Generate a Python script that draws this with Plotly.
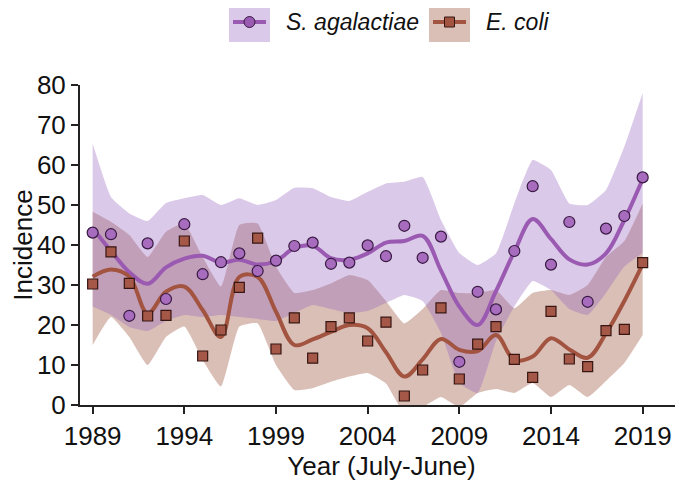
import plotly.graph_objects as go

# années (juillet-juin)
years = list(range(1989, 2020))

# incidence observée
sag_obs = [43.1, 42.7, 22.3, 40.4, 26.5, 45.2, 32.7, 35.7, 37.9, 33.5, 36.1,
           39.75, 40.6, 35.3, 35.6, 39.9, 37.2, 44.8, 36.8, 42.1, 10.8,
           28.3, 23.9, 38.5, 54.7, 35.1, 45.75, 25.8, 44.1, 47.25, 56.9]
ecoli_obs = [30.25, 38.3, 30.4, 22.25, 22.4, 41.0, 12.25, 18.75, 29.4, 41.7, 14.0,
             21.8, 11.7, 19.6, 21.8, 16.0, 20.7, 2.25, 8.75, 24.3, 6.5,
             15.2, 19.6, 11.4, 6.9, 23.4, 11.5, 9.6, 18.6, 18.9, 35.6]

# courbes lissées
sag_fit = [44.2, 38.5, 33.2, 30.3, 34.4, 36.6, 37.3, 35.6, 36.3, 35.1, 36.0,
           39.2, 39.8, 36.7, 36.3, 37.9, 40.6, 41.0, 42.3, 33.6, 24.6,
           20.0, 28.5, 38.3, 46.5, 41.5, 36.4, 35.1, 37.9, 46.25, 56.5]
ecoli_fit = [32.1, 33.9, 32.1, 22.9, 28.3, 29.6, 23.75, 17.0, 32.0, 32.0, 23.3,
             15.0, 16.4, 18.3, 20.0, 19.2, 13.2, 7.1, 11.4, 16.5, 13.8,
             13.5, 17.5, 11.25, 12.1, 16.7, 13.9, 11.8, 17.9, 26.0, 35.2]

# intervalles
sag_hi = [65.4, 52.0, 47.9, 46.0, 50.5, 51.7, 52.5, 50.0, 51.7, 50.0, 51.25,
          54.3, 54.2, 52.0, 51.0, 53.3, 55.4, 55.8, 57.0, 46.25, 38.0,
          35.0, 37.9, 50.4, 61.25, 58.75, 50.4, 50.0, 53.75, 64.6, 78.0]
sag_lo = [24.6, 22.5, 19.5, 18.5, 21.0, 22.5, 22.0, 22.5, 22.0, 21.5, 21.0,
          23.0, 25.0, 24.0, 23.0, 23.5, 25.5, 27.5, 26.0, 18.0, 5.5,
          3.0, 16.0, 24.6, 31.0, 28.75, 24.0, 22.5, 28.0, 34.6, 38.0]
ecoli_hi = [48.3, 45.8, 42.5, 37.0, 43.3, 45.4, 37.0, 29.6, 45.0, 45.4, 34.6,
            28.0, 28.75, 30.4, 32.5, 31.25, 26.0, 20.4, 24.0, 28.75, 28.0,
            28.0, 28.75, 24.2, 28.0, 28.75, 27.5, 30.0, 37.0, 41.0, 50.4]
ecoli_lo = [15.0, 22.0, 17.0, 10.0, 17.0, 19.6, 11.25, 4.6, 19.6, 20.4, 10.0,
            3.75, 4.2, 5.8, 7.1, 8.0, 5.4, -2.0, -0.5, 2.0, -0.5,
            3.0, 4.0, 3.0, 5.5, 2.0, 5.0, 2.0, 6.0, 10.5, 17.5]

labels = ["S. agalactiae", "E. coli"]

PURPLE = "rgb(155,90,178)"
BROWN = "rgb(163,84,64)"
PURPLE_FILL = "rgba(150,100,190,0.35)"
BROWN_FILL = "rgba(160,90,70,0.39)"
FONT = "Arial, Liberation Sans, sans-serif"

fig = go.Figure()

# bandes (E. coli d'abord, S. agalactiae par-dessus)
for lo, hi, fill in [(ecoli_lo, ecoli_hi, BROWN_FILL), (sag_lo, sag_hi, PURPLE_FILL)]:
    fig.add_trace(go.Scatter(x=years, y=lo, mode="lines", line=dict(width=0, shape="spline", smoothing=0.4),
                             showlegend=False, hoverinfo="skip"))
    fig.add_trace(go.Scatter(x=years, y=hi, mode="lines", line=dict(width=0, shape="spline", smoothing=0.4),
                             fill="tonexty", fillcolor=fill, showlegend=False, hoverinfo="skip"))

# courbes
fig.add_trace(go.Scatter(x=years, y=sag_fit, mode="lines", name=labels[0],
                         line=dict(color=PURPLE, width=4, shape="spline", smoothing=1.0), showlegend=False))
fig.add_trace(go.Scatter(x=years, y=ecoli_fit, mode="lines", name=labels[1],
                         line=dict(color=BROWN, width=4, shape="spline", smoothing=1.0), showlegend=False))

# points
fig.add_trace(go.Scatter(x=years, y=sag_obs, mode="markers", showlegend=False, cliponaxis=False,
                         marker=dict(symbol="circle", size=11, color="rgb(168,108,190)",
                                     line=dict(color="rgb(55,25,65)", width=1.2))))
fig.add_trace(go.Scatter(x=years, y=ecoli_obs, mode="markers", showlegend=False, cliponaxis=False,
                         marker=dict(symbol="square", size=10, color="rgb(165,88,72)",
                                     line=dict(color="rgb(55,22,18)", width=1.2))))

# la page a une marge de 8 px autour de la figure
OFF = 8
L, T, W, H = 80 - OFF, 85 - OFF, 603, 320
FW, FH = 683 - OFF, 481 - OFF


def px(x):
    return (x - OFF - L) / W


def py(y):
    return (T + H - (y - OFF)) / H


# légende faite à la main (boîte colorée + trait + symbole), coordonnées de la page
shapes = []
annotations = []
for x0, fill, col, sym, txt in [(229, PURPLE_FILL, PURPLE, "circle", labels[0]),
                                 (429, BROWN_FILL, BROWN, "square", labels[1])]:
    shapes.append(dict(type="rect", xref="paper", yref="paper", x0=px(x0), x1=px(x0 + 41),
                       y0=py(42), y1=py(2), fillcolor=fill, line=dict(width=0), layer="above"))
    shapes.append(dict(type="line", xref="paper", yref="paper", x0=px(x0 + 4), x1=px(x0 + 37),
                       y0=py(22), y1=py(22), line=dict(color=col, width=4)))
    cx = x0 + 20.5
    if sym == "circle":
        shapes.append(dict(type="circle", xref="paper", yref="paper", x0=px(cx - 5.5), x1=px(cx + 5.5),
                           y0=py(27.5), y1=py(16.5), fillcolor=col, line=dict(color="rgb(55,25,65)", width=1)))
    else:
        shapes.append(dict(type="rect", xref="paper", yref="paper", x0=px(cx - 5), x1=px(cx + 5),
                           y0=py(27), y1=py(17), fillcolor=col, line=dict(color="rgb(55,22,18)", width=1)))
    annotations.append(dict(xref="paper", yref="paper", x=px(x0 + 55), y=py(22), text="<i>%s</i>" % txt,
                            showarrow=False, xanchor="left", yanchor="middle",
                            font=dict(family=FONT, size=23, color="#111")))

fig.update_layout(
    width=FW, height=FH,
    margin=dict(l=L, r=FW - L - W, t=T, b=FH - T - H),
    plot_bgcolor="white", paper_bgcolor="white",
    font=dict(family=FONT, color="#111"),
    shapes=shapes, annotations=annotations,
    showlegend=False,
)
fig.update_xaxes(range=[1988.31, 2021.2], tickvals=list(range(1989, 2020, 5)),
                 showgrid=False, zeroline=False, showline=True, linecolor="#222", linewidth=2,
                 ticks="outside", ticklen=7, tickwidth=2, tickcolor="#222",
                 tickfont=dict(size=26), title=dict(text="Year (July-June)", font=dict(size=26), standoff=4))
fig.update_yaxes(range=[0, 80], dtick=10,
                 showgrid=False, zeroline=False, showline=True, linecolor="#222", linewidth=2,
                 ticks="outside", ticklen=7, tickwidth=2, tickcolor="#222",
                 tickfont=dict(size=26), title=dict(text="Incidence", font=dict(size=26), standoff=6))

fig.write_html("out.html")
